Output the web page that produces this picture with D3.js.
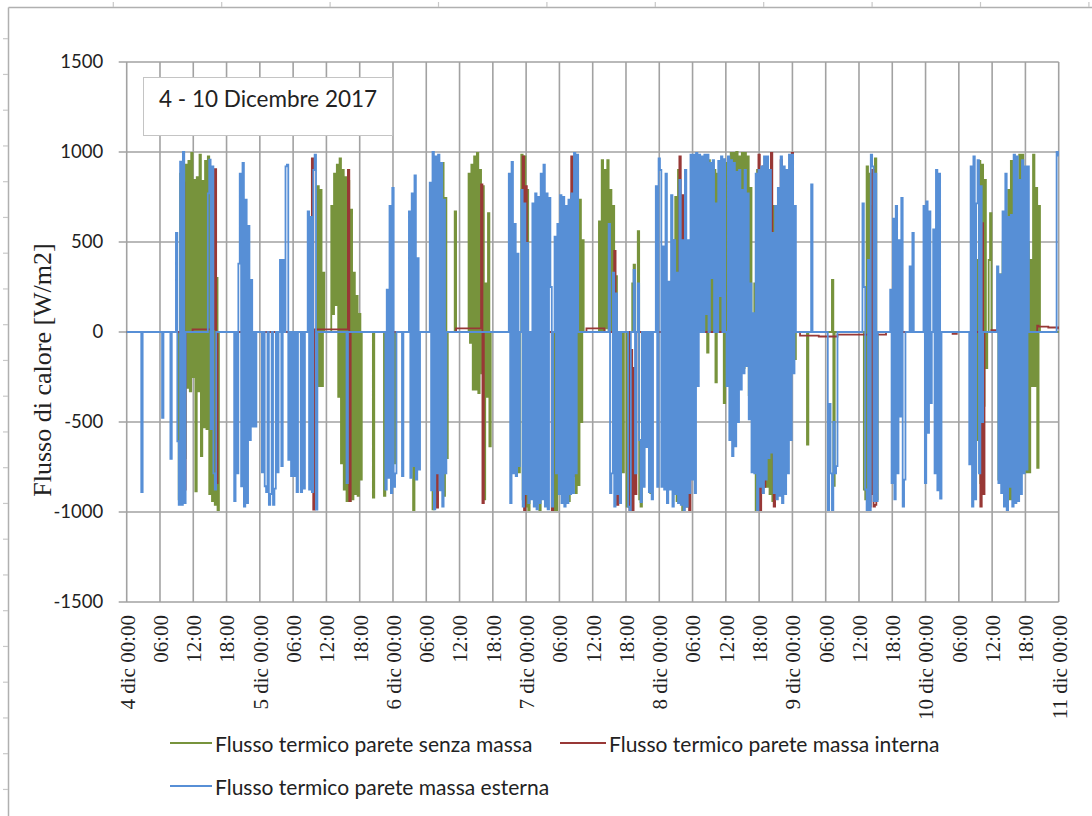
<!DOCTYPE html>
<html>
<head>
<meta charset="utf-8">
<script src="https://cdn.jsdelivr.net/npm/d3@7"></script>
<style>
body { margin: 0; background: #fff; }
</style>
</head>
<body>
<svg id="chart" width="1092" height="816"></svg>
<script>
var START = new Date(2017, 11, 4, 0, 0, 0);
var END = new Date(2017, 11, 11, 0, 0, 0);
var STEP_H = 0.25;   // sampling step inside a run, in hours

var yTickVals = [-1500, -1000, -500, 0, 500, 1000, 1500];
var titleText = "4 - 10 Dicembre 2017";
var yTitle = "Flusso di calore [W/m2]";
var seriesNames = ["Flusso termico parete senza massa",
                   "Flusso termico parete massa interna",
                   "Flusso termico parete massa esterna"];

// runs: [start hour from 4 dic 00:00, [values W/m2 every STEP_H]]
var greenRuns = [
  [0, [0]],
  [9.25, [0, -930, 880, -690, 900, -700, 930, -310, 950, -330, 995, -250, 845, -885, 860, -330, 985, -690, 840, -530, 950, -540, 975, -900, 810, -940, 780, -960, 300, -990, 0]],
  [34.25, [0, 810, -300, 790, -300, 330, 0]],
  [36.75, [0, 700, 100, 880, 150, 930, -360, 965, -730, 900, -875, 860, -940, 840, -940, 680, -930, 330, -900, 200, -910, 100, -820, 0]],
  [44.25, [0, -920, 0]],
  [46.25, [0, -910, 0, -300, 0, -600, -740, 0, -730, 0]],
  [51.5, [0, -990, 0, -505, 0]],
  [55, [0, -985, 0]],
  [56.75, [0, 940, -910, 745, -700, 0]],
  [59, [0, 670, 0]],
  [61.5, [0, 880, -60, 930, -320, 975, -320, 995, -340, 900, -230, 810, -930, 270, -360, 660, -635, 0]],
  [70.5, [0, -780, 0, 985, -930, 975, -970, 790, -990, 0]],
  [74.25, [0, -990, 0]],
  [76.75, [0, -990, 0, -990, 0]],
  [78.25, [0, -895, 0, 0, 0, 0, -940, 0, -730, -780, 975, -895, 940, -850, 735, -500, 510, 0]],
  [85, [0, 615, 0, 955, 0, 900, 20, 955, 0, 790, 0, 700, 0, 310, 0]],
  [89.25, [0, -780, 0, 0, -970, 0, 0, 0, 270, 374, 0, 0, 560, -930, -970, 0]],
  [94.25, [0, -895, 0]],
  [98.25, [0, 510, -600, 750, -940, 900, -700, 0, -990, 0, -500, 0, -970, 0]],
  [103.75, [0, 955, 0, 965, -115, 955, 0, 940, 0, 900, -280, 880, 0, 950, 0, 920, -395, 940, 0, 960, 0, 995, -300, 995, 0, 1000, -250, 975, 0, 995, -200, 995, 0, 975, -350, 800, 0]],
  [113, [0, 270, -990, 900, -990, 600, -700, 500, -860, 400, -860, 600, -900, 500, -940, 700, -900, 600, -780, 300, -230, 200, -400, 500, -650, 300, -500, 200, -150, 100, -150, 0]],
  [122.5, [0, -625, 0]],
  [127, [0, 290, -855, 0]],
  [132.75, [0, -875, -930, 920, -950, 880, -895, 700, -600, 965, -930, 0]],
  [152.25, [0, -300, 0, -780, 400, -600, 950, -840, 930, -410, 845, -200, 0, 400, 660, 0]],
  [157, [0, -820, 320, -40, 500, -880, 600, -880, 790, -930, 950, -930, 700, -780, 600, -780, 985, -470, 985, -600, 700, -780, 500, -780, 400, -300, 985, -300, 800, -755, 700, 0]],
  [168, [0]]
];

var redRuns = [
  [0, [0]],
  [10, [0, 830, -875, 0]],
  [11.75, [0, 15]],
  [15.75, [15, 905, -840, 0]],
  [33.25, [0, 965, -987, 15]],
  [39.75, [15, 900, -940, 0]],
  [55.75, [0, -975, 0]],
  [59.25, [0, 20]],
  [63.75, [20, 820, -950, 0]],
  [71.25, [0, 975, -990, 810, 0]],
  [74.25, [0, -820, 0]],
  [76.5, [0, -990, 0]],
  [80, [0, 975, -800, 900, 0]],
  [82.75, [0, 20]],
  [86, [20, 0]],
  [87.75, [0, 450, -895, -960, 0]],
  [90.5, [0, -990, -100, -990, -200, -900, 0]],
  [99.5, [0, 975, -950, 760, -600, -970, 0, -400, -990, 0]],
  [102.75, [0, 975, 0]],
  [113.75, [0, 985, -990, 0, 920, -860, 0, 530, 0, 0, 995, 160, -970, 0]],
  [117.75, [0, 955, 0]],
  [119.75, [0, 995, 0]],
  [121.25, [0, -20]],
  [128, [-25, -15]],
  [133.75, [-15, -970, -900, 900, -970, -960, -15]],
  [136.75, [-15, 0]],
  [148.75, [0, -10, -10, -10, 0]],
  [153.75, [0, -970, 605, -900, 0]],
  [155.75, [0, 10, 10, 10, 10, 0]],
  [164, [0, 35, 30]],
  [167.75, [25, 20]]
];

var blueRuns = [
  [0, [0]],
  [2.5, [0, -890, 0]],
  [6.25, [0, -477, 0]],
  [7.75, [0, -705, 0]],
  [8.75, [0, 550, -607, -960, 947, -960, 1000, -950, 0]],
  [14.5, [0, 770, 957, -540, 920, -785, -875, 0]],
  [19.25, [0, -940, 0, -785, 380, 880, -857, 940, -970, 735, -950, 590, -600, 290, -525, 0, -525, 0]],
  [24.25, [0, -780, 0, -857, -890, 0, -960, -900, 0, -960, -870, 0, -780, 0]],
  [27.75, [400, -745, 400, 0, 920, 930, -710, 0]],
  [29.75, [-800, 0, -800, 0]],
  [30.75, [-890, 0]],
  [31.25, [0, -890, 0, -870, 0]],
  [32.5, [0, 670, -875, 640, -890, 900, 985, -987, 0]],
  [39.5, [0, -840, 0]],
  [46.5, [0, -875, 235, -810, 700, -895, 800, -860, -785, 0]],
  [49.5, [0, -800, 0]],
  [50.75, [0, 670, -810, 770, -745, 870, -820, 410, -765, 0]],
  [54.5, [0, 830, -880, 1000, -985, 975, -785, 985, -880, 940, -970, 735, -785, 0]],
  [68.75, [0, 880, -950, 945, -785, 600, -800, 435, -745, 0]],
  [71.25, [790, -970, 715, -900, 495, -950, 0]],
  [73, [-930, 715, -970, 770, -985, 750, -950, 880, -930, 930, -970, 770, -985, 745, 250, -970, 0]],
  [77.25, [530, -785, 600, -900, 760, -950, 750, -970, 700, -950, 735, -900, 770, -895, 995, -785, 985, 0]],
  [86.75, [0, 600, -895, -785, 330, -970, 215, -900, 0, -950, 0]],
  [90.25, [0, -970, -990, 0, 0, 345, -785, 0, 270, -600, -945, 0]],
  [93.25, [-860, 0, -640, 0, -890, 0, -930, 0]],
  [95.25, [0, 810, -860, 965, 900, -860, 475, -875, 880, -950, 280, -875, 760, -970, 510, -900, 330, -950, 845,
           -960, 510, -990, 900, -970, 510, -895, 985, -820, 985, -895, 995, -300, 985, 0, 975, 0, 985, 100, 985, 0, 940, 300, 955, 0, 715, 0, 950, 200, 975, 0, 960, 0,
           -300, 975, -600, 955, -690, 940, -635, 890, -500, 900, -320, 790, -230, 900, -190, 770, -485, 270, -780,
           105, -785, 880, -990, 900, -860, 920, -895, 975, -820, 975, -700, 900, -670, 550, -895, 700, -930, 800, -910, 975, -950, 920, -900, 900, -785, 985, -600, 985, -230, 700, 0]],
  [123.25, [0, 820, 0]],
  [126.25, [0, -990, -400, -785, -990, -500, -785, -745, 0]],
  [132.5, [0, 715, 250, -875, -990, 400, -990, 985, 920, -940, 880, -940, 0]],
  [137.5, [0, 235, -840, 630, -930, 700, -785, 510, -470, 745, -970, -820, 0]],
  [141, [0, 365, 0, 550, 0]],
  [143.5, [0, 700, -840, 725, -560, 670, -395, 0, 570, -785, 900, -880, 880, -925, 0]],
  [151.75, [0, -735, 920, -970, 975, -930, 715, 955, -785, 810, -500, 0]],
  [156.75, [0, 365, -840, 320, -895, 670, -970, 880, -990, 640, -860, 650, -970, 985, -950, 975, -940, 845, -900, 955, -785, 920, -765, 920, 0]],
  [167.5, [0, 1000, 980]]
];

var GREEN_COL = "#77933c";
var RED_COL = "#983836";
var BLUE_COL = "#578fd6";
var GRID_COL = "#a2a2a2";
var TXT_COL = "#222";
var SANS = "Lato, 'Open Sans', sans-serif";
var SERIF = "'Liberation Serif', 'Times New Roman', serif";

var PLOT_L = 126.7, PLOT_R = 1058.7, PLOT_T = 62, PLOT_B = 602;

var svg = d3.select("#chart");

var xScale = d3.scaleTime().domain([START, END]).range([PLOT_L, PLOT_R]);
var yScale = d3.scaleLinear().domain([-1500, 1500]).range([PLOT_B, PLOT_T]);

function expand_runs(runs) {
    var pts = [];
    runs.forEach(function(r) {
        r[1].forEach(function(v, i) {
            pts.push({ date: new Date(START.getTime() + (r[0] + i * STEP_H) * 3600000), v: v });
        });
    });
    return pts;
}

function draw_frame() {
    // sheet border and the little row / column marks of the worksheet
    svg.append("line").attr("x1", 8.5).attr("x2", 1092).attr("y1", 7.5).attr("y2", 7.5)
       .style("stroke", "#b0b0b0").style("stroke-width", 1.5);
    svg.append("line").attr("x1", 8.5).attr("x2", 8.5).attr("y1", 7.5).attr("y2", 816)
       .style("stroke", "#b0b0b0").style("stroke-width", 1.5);
    for (var k = 0; k < 22; k++) {
        svg.append("line").attr("x1", 3).attr("x2", 8).attr("y1", 38.7 + k * 35.75).attr("y2", 38.7 + k * 35.75)
           .style("stroke", "#c8c8c8").style("stroke-width", 1.2);
    }
    for (var k = 0; k < 10; k++) {
        svg.append("line").attr("x1", 113.3 + k * 108.4).attr("x2", 113.3 + k * 108.4).attr("y1", 2).attr("y2", 7)
           .style("stroke", "#c8c8c8").style("stroke-width", 1.2);
    }
}

function draw_grid() {
    var xTicks = xScale.ticks(d3.timeHour.every(6));

    svg.append("g").selectAll("line")
       .data(xTicks)
       .enter()
       .append("line")
       .attr("x1", d => xScale(d)).attr("x2", d => xScale(d))
       .attr("y1", PLOT_T).attr("y2", PLOT_B)
       .style("stroke", GRID_COL).style("stroke-width", 1.6);

    svg.append("g").selectAll("line")
       .data(yTickVals)
       .enter()
       .append("line")
       .attr("x1", PLOT_L - 8).attr("x2", PLOT_R)
       .attr("y1", d => yScale(d)).attr("y2", d => yScale(d))
       .style("stroke", GRID_COL).style("stroke-width", 1.6);
}

function draw_axes() {
    var yAxis = d3.axisLeft(yScale)
        .tickValues(yTickVals)
        .tickFormat(d => String(d))
        .tickSize(0)
        .tickPadding(23.5);

    var gy = svg.append("g")
        .attr("transform", "translate(" + PLOT_L + ",0)")
        .call(yAxis);
    gy.select(".domain").remove();
    gy.selectAll("text")
      .style("font-family", SANS)
      .style("font-size", "18.5px")
      .style("fill", TXT_COL);

    var hm = d3.timeFormat("%H:%M");
    var xAxis = d3.axisBottom(xScale)
        .ticks(d3.timeHour.every(6))
        .tickSize(0)
        .tickFormat(function(d) {
            if (d.getHours() == 0) return d.getDate() + " dic " + hm(d);
            return hm(d);
        });

    var gx = svg.append("g")
        .attr("transform", "translate(0," + PLOT_B + ")")
        .call(xAxis);
    gx.select(".domain").remove();
    gx.selectAll("text")
      .attr("transform", "rotate(-90)")
      .attr("x", -13)
      .attr("y", 0)
      .attr("dy", "0.35em")
      .style("text-anchor", "end")
      .style("font-family", SERIF)
      .style("font-size", "21px")
      .style("fill", TXT_COL);

    svg.append("text")
       .attr("transform", "translate(51,370) rotate(-90)")
       .attr("text-anchor", "middle")
       .text(yTitle)
       .style("font-family", SERIF)
       .style("font-size", "26px")
       .style("fill", TXT_COL);
}

function plot_series(runs, col) {
    // step curve keeps the spikes vertical, like the dense logger data
    var line = d3.line()
        .curve(d3.curveStep)
        .x(d => xScale(d.date))
        .y(d => yScale(d.v));

    svg.append("path")
       .datum(expand_runs(runs))
       .attr("d", line)
       .style("fill", "none")
       .style("stroke", col)
       .style("stroke-width", 1.8);
}

function add_title_box() {
    svg.append("rect")
       .attr("x", 143.5).attr("y", 77.5).attr("width", 249).attr("height", 58)
       .style("fill", "#fff").style("stroke", "#c4c4c4").style("stroke-width", 1);
    svg.append("text")
       .attr("x", 159).attr("y", 107.3)
       .text(titleText)
       .style("font-family", SANS)
       .style("font-size", "22.5px")
       .style("fill", TXT_COL);
}

function add_legend() {
    var items = [
        { name: seriesNames[0], col: GREEN_COL, x1: 170, x2: 212, y: 743 },
        { name: seriesNames[1], col: RED_COL, x1: 560, x2: 606, y: 743 },
        { name: seriesNames[2], col: BLUE_COL, x1: 170, x2: 212, y: 786 }
    ];
    var lg = svg.append("g");
    lg.selectAll("line")
      .data(items)
      .enter()
      .append("line")
      .attr("x1", d => d.x1).attr("x2", d => d.x2)
      .attr("y1", d => d.y).attr("y2", d => d.y)
      .style("stroke", d => d.col)
      .style("stroke-width", 2);
    lg.selectAll("text")
      .data(items)
      .enter()
      .append("text")
      .attr("x", d => d.x2 + 3)
      .attr("y", d => d.y + 8.5)
      .text(d => d.name)
      .style("font-family", SANS)
      .style("font-size", "21px")
      .style("fill", TXT_COL);
}

draw_frame();
draw_grid();
plot_series(greenRuns, GREEN_COL);
plot_series(redRuns, RED_COL);
plot_series(blueRuns, BLUE_COL);
draw_axes();
add_title_box();
add_legend();
</script>
</body>
</html>
